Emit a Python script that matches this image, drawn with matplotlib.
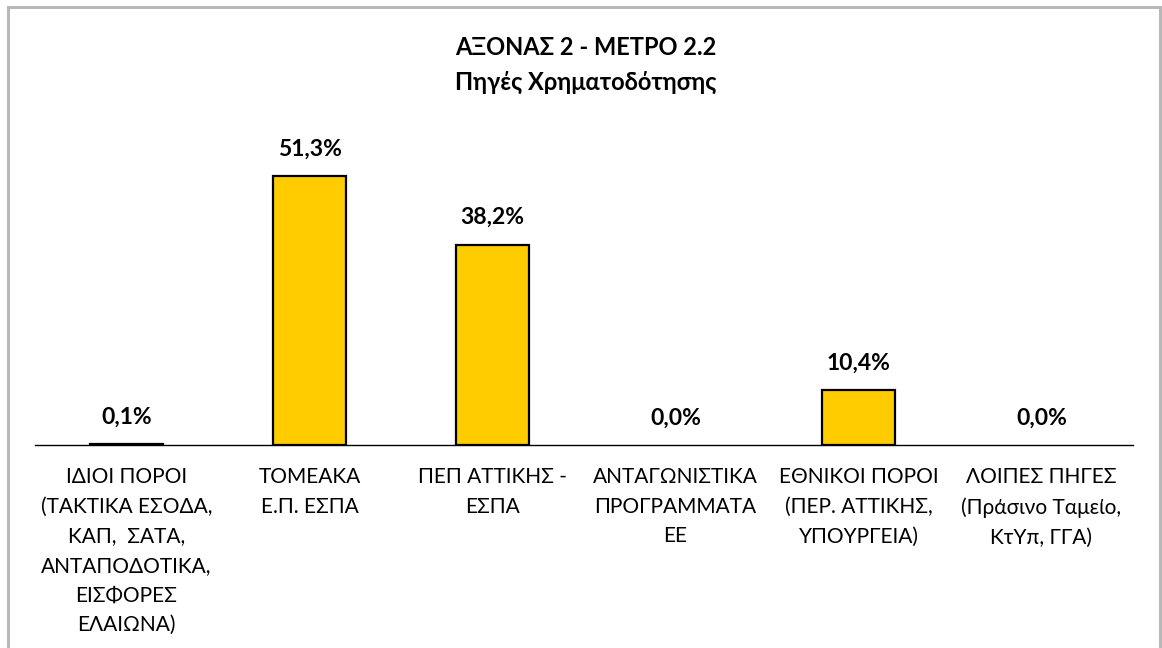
import matplotlib
matplotlib.use("Agg")
import matplotlib.pyplot as plt
from matplotlib.patches import Rectangle
from matplotlib import font_manager

categories = [
    "ΙΔΙΟΙ ΠΟΡΟΙ\n(ΤΑΚΤΙΚΑ ΕΣΟΔΑ,\nΚΑΠ,  ΣΑΤΑ,\nΑΝΤΑΠΟΔΟΤΙΚΑ,\nΕΙΣΦΟΡΕΣ\nΕΛΑΙΩΝΑ)",
    "ΤΟΜΕΑΚΑ\nΕ.Π. ΕΣΠΑ",
    "ΠΕΠ ΑΤΤΙΚΗΣ -\nΕΣΠΑ",
    "ΑΝΤΑΓΩΝΙΣΤΙΚΑ\nΠΡΟΓΡΑΜΜΑΤΑ\nΕΕ",
    "ΕΘΝΙΚΟΙ ΠΟΡΟΙ\n(ΠΕΡ. ΑΤΤΙΚΗΣ,\nΥΠΟΥΡΓΕΙΑ)",
    "ΛΟΙΠΕΣ ΠΗΓΕΣ\n(Πράσινο Ταμείο,\nΚτΥπ, ΓΓΑ)",
]
values = [0.1, 51.3, 38.2, 0.0, 10.4, 0.0]
value_labels = ["0,1%", "51,3%", "38,2%", "0,0%", "10,4%", "0,0%"]
title = "ΑΞΟΝΑΣ 2 - ΜΕΤΡΟ 2.2\nΠηγές Χρηματοδότησης"

avail = {f.name for f in font_manager.fontManager.ttflist}
fams = [f for f in ["Liberation Sans Narrow", "Lato", "Noto Sans"] if f in avail] + ["DejaVu Sans"]
plt.rcParams["font.family"] = fams

W, H = 1162, 648
fig = plt.figure(figsize=(W / 100, H / 100), dpi=100)
fig.patches.append(Rectangle((7.5 / W, -0.01), (1160 - 7.5) / W, (H - 7) / H + 0.01,
                             transform=fig.transFigure, fill=False,
                             edgecolor="#b8b8b8", linewidth=2.2))

x0, x1 = 35, 1133
ybase, ytop = 445, 130.4
ax = fig.add_axes([x0 / W, 1 - ybase / H, (x1 - x0) / W, (ybase - ytop) / H])
n = len(values)
xs = list(range(n))
lws = [1.6 if v > 0 else 0 for v in values]
ax.bar(xs, values, width=0.40, color="#FFCC00", edgecolor="black", linewidth=lws)
ax.set_xlim(-0.5, n - 0.5)
ax.set_ylim(0, 60)
for s in ["top", "right", "left"]:
    ax.spines[s].set_visible(False)
ax.spines["bottom"].set_linewidth(1.0)
ax.set_yticks([])
ax.set_xticks(xs)
ax.set_xticklabels(categories, fontsize=15, linespacing=1.6, va="top")
ax.tick_params(axis="x", length=0, pad=16)
for x, v, lab in zip(xs, values, value_labels):
    ax.annotate(lab, (x, v), xytext=(0, 12), textcoords="offset points",
                ha="center", va="bottom", fontsize=16.5, fontweight="bold")

fig.text(586 / W, 1 - 65 / H, title, ha="center", va="center", fontsize=17,
         fontweight="bold", linespacing=1.65)

fig.savefig("out.png", dpi=100, facecolor="white")
